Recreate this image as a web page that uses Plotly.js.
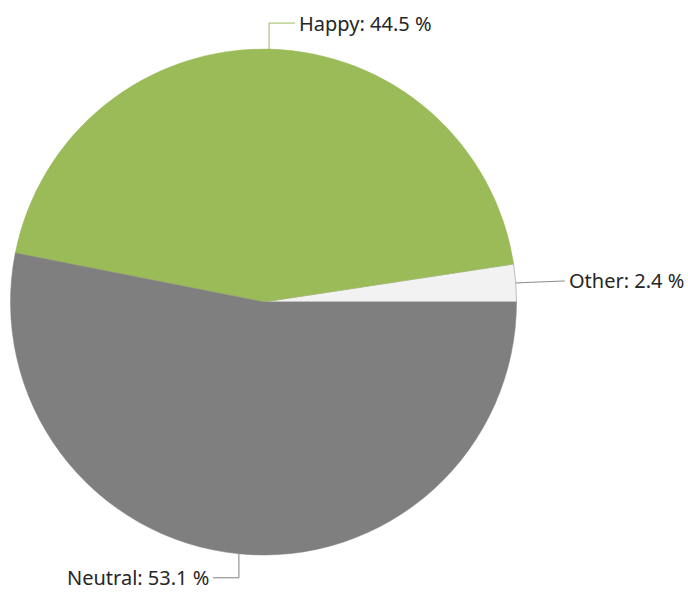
<!DOCTYPE html>
<html>
<head>
<meta charset="utf-8">
<script src="https://cdn.plot.ly/plotly-3.0.1.min.js"></script>
<style>html,body{margin:0;padding:0;background:#fff;}#chart{width:688px;height:594px;}</style>
</head>
<body>
<div id="chart"></div>
<script>
// Data
var labels = ["Other", "Happy", "Neutral"];
var values = [2.4, 44.5, 53.1];
var colors = ["#F2F2F2", "#9BBB59", "#7F7F7F"];
var lineColors = ["#BDBDBD", "#9BBB59", "#7F7F7F"];

var W = 688, H = 594;
// Pie geometry (pixels)
var cx = 263.5, cy = 302, R = 253;
var domX = [(cx - R) / W, (cx + R) / W];
var domY = [1 - (cy + R) / H, 1 - (cy - R) / H];

var total = values.reduce(function (a, b) { return a + b; }, 0);
var shapes = [], annotations = [];
var start = 0; // degrees counterclockwise from 3 o'clock
function px(x) { return x / W; }
function py(y) { return 1 - y / H; }
for (var i = 0; i < values.length; i++) {
  var sweep = values[i] / total * 360;
  var mid = (start + sweep / 2) * Math.PI / 180;
  start += sweep;
  var c = Math.cos(mid), s = Math.sin(mid);
  var ex = cx + R * c, ey = cy - R * s;
  var pts, tx, ty;
  var dir = c >= 0 ? 1 : -1;
  if (Math.abs(s) > 0.7) {
    var vy = ey - (s > 0 ? 26 : -24);
    var hx = ex + dir * 26;
    pts = [[ex, ey], [ex, vy], [hx, vy]];
    tx = hx + dir * 2; ty = vy;
  } else {
    var hx2 = ex + dir * 49;
    pts = [[ex, ey], [hx2, ey - 2]];
    tx = hx2 + dir * 2; ty = ey - 2;
  }
  var path = pts.map(function (p, k) { return (k ? "L" : "M") + px(p[0]) + "," + py(p[1]); }).join(" ");
  shapes.push({ type: "path", xref: "paper", yref: "paper", path: path,
    line: { color: colors[i] === "#F2F2F2" ? "#8C8C8C" : colors[i], width: 1 } });
  annotations.push({ xref: "paper", yref: "paper", x: px(tx), y: py(ty),
    xanchor: dir > 0 ? "left" : "right", yanchor: "middle", showarrow: false,
    text: labels[i] + ": " + values[i].toFixed(1) + " %",
    font: { family: "Noto Sans, sans-serif", size: 20, color: "#262626" } });
}

// Plotly's counterclockwise layout ends the first slice at the rotation angle;
// shift so that the first slice starts at 3 o'clock.
var rot = 90 - values[0] / total * 360;

var trace = {
  type: "pie",
  labels: labels,
  values: values,
  sort: false,
  direction: "counterclockwise",
  rotation: rot,
  textinfo: "none",
  hoverinfo: "skip",
  marker: { colors: colors, line: { color: lineColors, width: [1, 0.5, 0.5] } },
  domain: { x: domX, y: domY },
  showlegend: false
};

var layout = {
  width: W, height: H,
  margin: { l: 0, r: 0, t: 0, b: 0 },
  paper_bgcolor: "#ffffff",
  showlegend: false,
  shapes: shapes,
  annotations: annotations
};

Plotly.newPlot("chart", [trace], layout, { displayModeBar: false, staticPlot: true });
</script>
</body>
</html>
